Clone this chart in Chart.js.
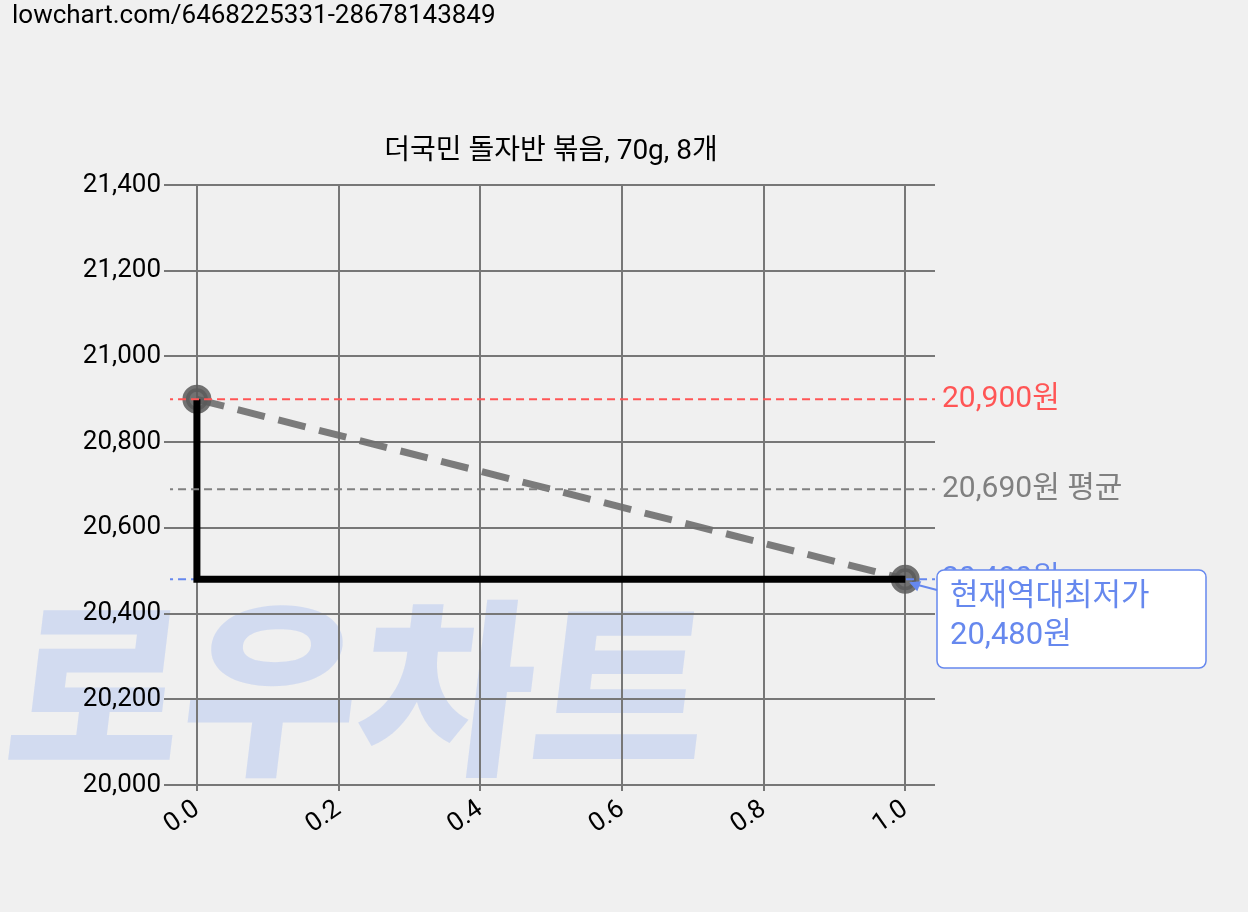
<!DOCTYPE html>
<html><head><meta charset="utf-8">
<script src="https://cdn.jsdelivr.net/npm/chart.js@4/dist/chart.umd.min.js"></script>
<style>html,body{margin:0;padding:0;background:#f0f0f0;}#w{width:1248px;height:912px;position:relative}</style>
</head><body><div id="w"><canvas id="c" width="1248" height="912"></canvas></div>
<script>
const titleText = "더국민 돌자반 볶음, 70g, 8개";
const urlText = "lowchart.com/6468225331-28678143849";
const xs = [0, 1];
const prices = [20900, 20480];
const stepX = [0, 0, 1];
const stepY = [20900, 20480, 20480];
const maxPrice = 20900, avgPrice = 20690, minPrice = 20480;
const yTicks = [20000, 20200, 20400, 20600, 20800, 21000, 21200, 21400];
const xTicks = [0.0, 0.2, 0.4, 0.6, 0.8, 1.0];
const refX = [-0.045, 1.042];
const F = "Roboto, 'Noto Sans CJK KR', sans-serif";

const fmt = v => v.toLocaleString('en-US');
const pts = (a, b) => a.map((x, i) => ({x, y: b[i]}));

const overlay = {
  id: 'overlay',
  beforeDraw(ch) {
    const c = ch.ctx;
    c.save();
    c.fillStyle = '#f0f0f0'; c.fillRect(0, 0, ch.width, ch.height);
    c.fillStyle = 'rgba(200,212,240,0.75)';
    c.font = "900 190px 'Noto Sans CJK KR'";
    c.textBaseline = 'middle';
    c.save(); c.translate(0, 688); c.transform(1,0,-0.12,1,0,0);
    c.fillText('로우차트', 10, 0); c.restore();
    c.restore();
  },
  afterDraw(ch) {
    const c = ch.ctx, x = ch.scales.x, y = ch.scales.y;
    c.save();
    c.fillStyle = '#000'; c.font = "26px " + F; c.textBaseline = 'middle';
    c.fillText(urlText, 12, 16);
    c.textAlign = 'center'; c.font = "28px " + F;
    c.fillText(titleText, 551, 152);
    c.textAlign = 'left'; c.font = "30px " + F;
    const lx = 942;
    c.fillStyle = '#ff5555'; c.fillText(fmt(maxPrice) + '원', lx, y.getPixelForValue(maxPrice));
    c.fillStyle = '#808080'; c.fillText(fmt(avgPrice) + '원 평균', lx, y.getPixelForValue(avgPrice));
    c.fillStyle = '#6688ee'; c.fillText(fmt(minPrice) + '원', lx, y.getPixelForValue(minPrice));
    const px = x.getPixelForValue(1), py = y.getPixelForValue(minPrice);
    c.fillStyle = '#fff'; c.strokeStyle = '#6688ee'; c.lineWidth = 1.5;
    c.beginPath();
    if (c.roundRect) c.roundRect(937, 570, 269, 98, 7); else c.rect(937, 570, 269, 98);
    c.fill(); c.stroke();
    c.strokeStyle = '#6688ee'; c.lineWidth = 2;
    c.beginPath(); c.moveTo(937, 590); c.lineTo(px + 6, py + 4); c.stroke();
    c.fillStyle = '#6688ee';
    c.beginPath(); c.moveTo(px + 4, py + 3); c.lineTo(px + 16, py + 2); c.lineTo(px + 12, py + 12); c.fill();
    c.font = "31px " + F;
    c.fillText('현재역대최저가', 950, 597);
    c.fillText(fmt(minPrice) + '원', 950, 636);
    c.restore();
  }
};

new Chart(document.getElementById('c'), {
  type: 'scatter',
  data: { datasets: [
    { data: pts(refX, [maxPrice, maxPrice]), showLine: true, borderColor: '#ff5555', borderWidth: 2, borderDash: [8, 5], pointRadius: 0 },
    { data: pts(refX, [avgPrice, avgPrice]), showLine: true, borderColor: '#808080', borderWidth: 2, borderDash: [8, 5], pointRadius: 0 },
    { data: pts(stepX, stepY), showLine: true, borderColor: '#000', borderWidth: 7, pointRadius: 0 },
    { data: pts(refX, [minPrice, minPrice]), showLine: true, borderColor: '#6688ee', borderWidth: 2, borderDash: [8, 5], pointRadius: 0 },
    { data: pts(xs, prices), showLine: true, borderColor: 'rgba(110,110,110,0.9)', borderWidth: 7, borderDash: [28, 14], pointRadius: 11, pointBackgroundColor: 'rgba(90,90,90,0.85)', pointBorderColor: 'rgba(90,90,90,0.85)' }
  ]},
  options: {
    responsive: false, animation: false, devicePixelRatio: 1,
    layout: { padding: { left: 0, right: 313, top: 185, bottom: 0 } },
    plugins: { legend: { display: false }, tooltip: { enabled: false } },
    scales: {
      x: { type: 'linear', min: -0.038, max: 1.042,
        afterBuildTicks: s => { s.ticks = xTicks.map(v => ({value: v})); },
        afterFit: s => { s.height = 127; },
        grid: { color: '#777', lineWidth: 2, borderDash: [2, 4], drawTicks: true, tickLength: 6 },
        border: { display: false },
        ticks: { color: '#000', font: { size: 26, family: F }, maxRotation: 35, minRotation: 35, callback: v => v.toFixed(1) } },
      y: { min: 20000, max: 21400,
        afterBuildTicks: s => { s.ticks = yTicks.map(v => ({value: v})); },
        afterFit: s => { s.width = 170; },
        grid: { color: '#777', lineWidth: 2, borderDash: [2, 4], tickLength: 6 },
        border: { display: false },
        ticks: { color: '#000', font: { size: 26, family: F }, callback: v => fmt(v) } }
    }
  },
  plugins: [overlay]
});
</script></body></html>
